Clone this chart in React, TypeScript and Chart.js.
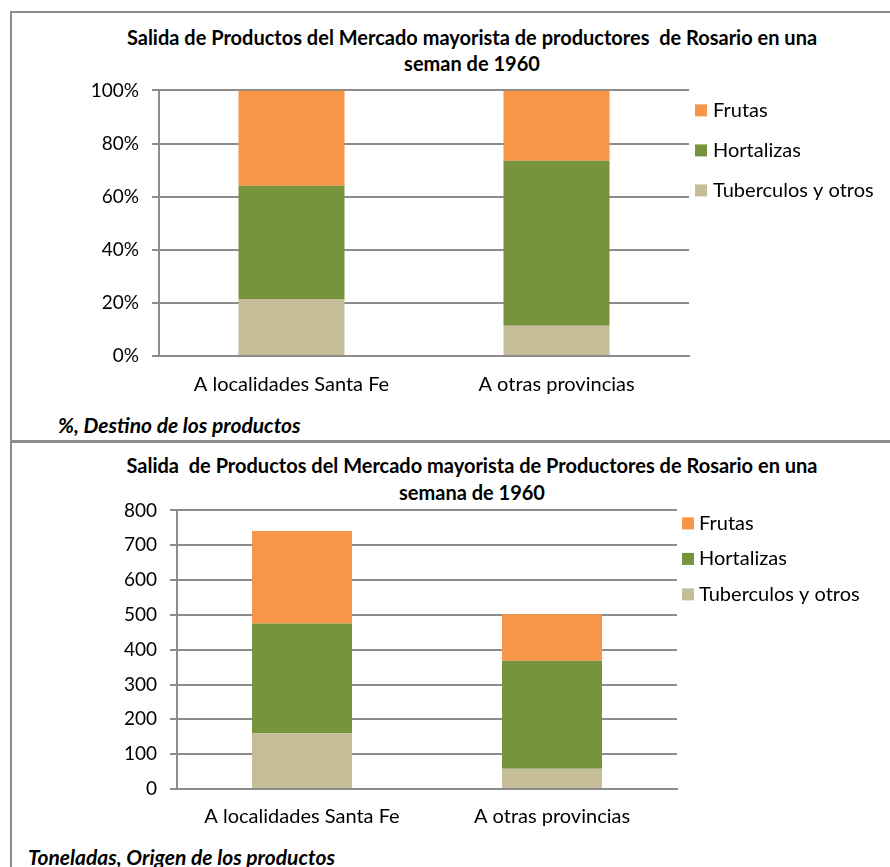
import React, { useEffect, useRef } from "react";
import { Chart, registerables } from "chart.js";

Chart.register(...registerables);

const categories = ["A localidades Santa Fe", "A otras provincias"];
const seriesNames = ["Tuberculos y otros", "Hortalizas", "Frutas"];
const seriesColors = ["#C4BD97", "#77933C", "#F79646"];

// Share (%) of each product group by destination
const pctTuberculos = [21.5, 11.4];
const pctHortalizas = [42.6, 62.1];
const pctFrutas = [35.9, 26.5];

// Tonnes of each product group by destination
const tonTuberculos = [160, 58];
const tonHortalizas = [315, 310];
const tonFrutas = [266, 134];

const FONT = "Lato, 'Open Sans', sans-serif";
const AXIS_GRAY = "#8c8c8c";

// Legend drawn to the right of the plot area, top series first
const sideLegend = {
  id: "sideLegend",
  afterDraw(chart: any, _args: any, opts: any) {
    const { ctx, chartArea } = chart;
    const ds = chart.data.datasets;
    ctx.save();
    ctx.font = `${opts.fontSize}px ${FONT}`;
    ctx.textBaseline = "middle";
    ctx.textAlign = "left";
    for (let i = ds.length - 1, k = 0; i >= 0; i--, k++) {
      const y = chartArea.top + opts.firstOffset + k * opts.spacing;
      const x = chartArea.right + opts.gap;
      ctx.fillStyle = ds[i].backgroundColor;
      ctx.fillRect(x, y - opts.box / 2, opts.box, opts.box);
      ctx.fillStyle = "#000";
      ctx.fillText(ds[i].label, x + opts.box + opts.textGap, y);
    }
    ctx.restore();
  },
};

type PanelProps = {
  top: number;
  height: number;
  padTop: number;
  padRight: number;
  yWidth: number;
  xHeight: number;
  xPadding: number;
  max: number;
  step: number;
  suffix: string;
  values: number[][];
  legend: { firstOffset: number; spacing: number; gap: number; box: number; textGap: number; fontSize: number };
};

function StackedPanel(p: PanelProps) {
  const ref = useRef<HTMLCanvasElement | null>(null);

  useEffect(() => {
    if (!ref.current) return;
    const chart = new Chart(ref.current, {
      type: "bar",
      data: {
        labels: categories,
        datasets: seriesNames.map((name, i) => ({
          label: name,
          data: p.values[i],
          backgroundColor: seriesColors[i],
          borderWidth: 0,
          barPercentage: 0.4,
          categoryPercentage: 1,
        })),
      },
      options: {
        animation: false,
        responsive: false,
        devicePixelRatio: 1,
        layout: { padding: { top: p.padTop, right: p.padRight, left: 0, bottom: 0 } },
        plugins: {
          legend: { display: false },
          title: { display: false },
          tooltip: { enabled: false },
          sideLegend: p.legend,
        } as any,
        scales: {
          x: {
            stacked: true,
            grid: { display: false },
            border: { display: true, color: AXIS_GRAY, width: 2 },
            ticks: { color: "#000", font: { family: FONT, size: 20 }, padding: p.xPadding },
            afterFit: (s: any) => {
              s.height = p.xHeight;
            },
          },
          y: {
            stacked: true,
            min: 0,
            max: p.max,
            ticks: {
              stepSize: p.step,
              color: "#000",
              font: { family: FONT, size: 19 },
              padding: 13,
              callback: (v: any) => `${v}${p.suffix}`,
            },
            grid: { color: AXIS_GRAY, lineWidth: 2, tickLength: 7 },
            border: { display: true, color: AXIS_GRAY, width: 2 },
            afterFit: (s: any) => {
              s.width = p.yWidth;
            },
          },
        },
      },
      plugins: [sideLegend],
    });
    return () => chart.destroy();
  }, []);

  return (
    <canvas
      ref={ref}
      width={890}
      height={p.height}
      style={{ position: "absolute", left: 0, top: p.top, width: 890, height: p.height }}
    />
  );
}

const titleStyle: React.CSSProperties = {
  position: "absolute",
  left: 0,
  width: 944,
  textAlign: "center",
  fontFamily: FONT,
  fontWeight: 700,
  fontSize: 20,
  whiteSpace: "pre",
  color: "#000",
};

const captionStyle: React.CSSProperties = {
  position: "absolute",
  fontFamily: FONT,
  fontWeight: 700,
  fontStyle: "italic",
  fontSize: 21,
  lineHeight: "24px",
  color: "#000",
  whiteSpace: "pre",
};

export default function App() {
  return (
    <div
      style={{
        position: "absolute",
        left: 0,
        top: 0,
        width: 890,
        height: 867,
        overflow: "hidden",
        background: "#fff",
      }}
    >
      {/* frame */}
      <div style={{ position: "absolute", left: 10, top: 11, width: 880, height: 2, background: AXIS_GRAY }} />
      <div style={{ position: "absolute", left: 10, top: 11, width: 2, height: 856, background: AXIS_GRAY }} />
      <div style={{ position: "absolute", left: 10, top: 440, width: 880, height: 3, background: AXIS_GRAY }} />

      <div style={{ ...titleStyle, top: 24, lineHeight: "26px" }}>
        {"Salida de Productos del Mercado mayorista de productores  de Rosario en una\nseman de 1960"}
      </div>
      <StackedPanel
        top={66}
        height={340}
        padTop={8}
        padRight={201}
        yWidth={159}
        xHeight={50}
        xPadding={9}
        max={100}
        step={20}
        suffix="%"
        values={[pctTuberculos, pctHortalizas, pctFrutas]}
        legend={{ firstOffset: 20, spacing: 40, gap: 6, box: 12, textGap: 6, fontSize: 20 }}
      />
      <div style={{ ...captionStyle, left: 58, top: 413 }}>%, Destino de los productos</div>

      <div style={{ ...titleStyle, top: 452, lineHeight: "27px" }}>
        {"Salida  de Productos del Mercado mayorista de Productores de Rosario en una\nsemana de 1960"}
      </div>
      <StackedPanel
        top={486}
        height={350}
        padTop={8}
        padRight={213}
        yWidth={177}
        xHeight={47}
        xPadding={8}
        max={800}
        step={100}
        suffix=""
        values={[tonTuberculos, tonHortalizas, tonFrutas]}
        legend={{ firstOffset: 13, spacing: 35.5, gap: 5, box: 12, textGap: 5, fontSize: 20 }}
      />
      <div style={{ ...captionStyle, left: 28, top: 845 }}>Toneladas, Origen de los productos</div>
    </div>
  );
}
